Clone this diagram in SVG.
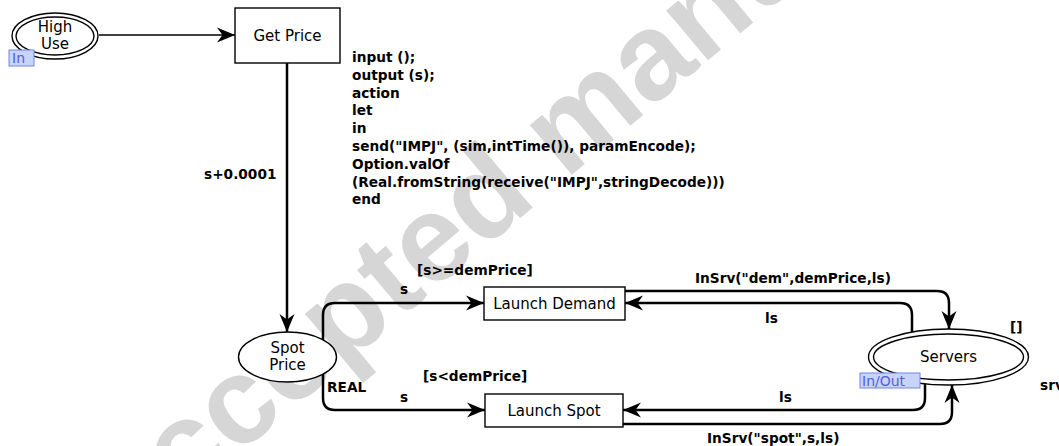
<svg xmlns="http://www.w3.org/2000/svg" width="1059" height="446" viewBox="0 0 1059 446">
  <style>
    .node { fill: #ffffff; stroke: #000000; stroke-width: 1.4; }
    .lbl { font-family: "DejaVu Sans", Verdana, sans-serif; font-size: 15px; fill: #000000; text-anchor: middle; }
    .ins { font-family: "DejaVu Sans", Verdana, sans-serif; font-size: 13.7px; font-weight: bold; fill: #000000; }
    .tag { fill: #c9d2f7; stroke: #6f86e6; stroke-width: 1; }
    .tagtxt { font-family: "DejaVu Sans", Verdana, sans-serif; font-size: 14px; fill: #4f63d6; }
    .arc { fill: none; stroke: #000000; stroke-width: 2.5; }
    .thin { stroke-width: 1.5; }
    .wm { font-family: "Liberation Sans", Arial, sans-serif; font-size: 123px; font-weight: bold; fill: #d6d6d6; }
  </style>
  <defs>
    <marker id="head" markerUnits="userSpaceOnUse" markerWidth="24" markerHeight="20" viewBox="-20 -10 22 20" refX="0" refY="0" orient="auto">
      <path d="M0,0 L-18,-7.5 L-12.5,0 L-18,7.5 Z" fill="#000000"/>
    </marker>
  </defs>

  <rect width="1059" height="446" fill="#ffffff"/>

  <!-- watermark -->
  <text class="wm" transform="translate(115,558) rotate(-40)">Accepted manuscript</text>

  <!-- connectors -->
  <g id="arcs">
    <line class="arc thin" x1="99" y1="35" x2="235" y2="35" marker-end="url(#head)"/>
    <line class="arc" x1="287" y1="63" x2="287" y2="332" marker-end="url(#head)"/>
    <path class="arc" d="M323,341 V315 Q323,303 335,303 H484" marker-end="url(#head)"/>
    <path class="arc" d="M323,374 V398 Q323,410 335,410 H485" marker-end="url(#head)"/>
    <path class="arc" d="M625,291 H937 Q949,291 949,303 V329" marker-end="url(#head)"/>
    <path class="arc" d="M912,332 V315 Q912,303 900,303 H625" marker-end="url(#head)"/>
    <path class="arc" d="M925,384 V398 Q925,410 913,410 H623" marker-end="url(#head)"/>
    <path class="arc" d="M623,424 H940 Q952,424 952,412 V385" marker-end="url(#head)"/>
  </g>

  <!-- arc inscriptions -->
  <g id="inscriptions">
    <text class="ins" x="204" y="179">s+0.0001</text>
    <text class="ins" x="417" y="275">[s&gt;=demPrice]</text>
    <text class="ins" x="400" y="294">s</text>
    <text class="ins" x="327" y="392">REAL</text>
    <text class="ins" x="423" y="381">[s&lt;demPrice]</text>
    <text class="ins" x="400" y="402">s</text>
    <text class="ins" x="695" y="283">InSrv("dem",demPrice,ls)</text>
    <text class="ins" x="765" y="323">ls</text>
    <text class="ins" x="779" y="402">ls</text>
    <text class="ins" x="707" y="443">InSrv("spot",s,ls)</text>
    <text class="ins" x="1010" y="332">[]</text>
    <text class="ins" x="1040" y="390">srv</text>
  </g>

  <!-- code segment of Get Price -->
  <g id="code">
    <text class="ins" x="352" y="62">input ();</text>
    <text class="ins" x="352" y="79.8">output (s);</text>
    <text class="ins" x="352" y="97.6">action</text>
    <text class="ins" x="352" y="115.4">let</text>
    <text class="ins" x="352" y="133.2">in</text>
    <text class="ins" x="352" y="151">send("IMPJ", (sim,intTime()), paramEncode);</text>
    <text class="ins" x="352" y="168.8">Option.valOf</text>
    <text class="ins" x="352" y="186.6">(Real.fromString(receive("IMPJ",stringDecode)))</text>
    <text class="ins" x="352" y="204.4">end</text>
  </g>

  <!-- places -->
  <g id="high-use">
    <ellipse class="node" cx="55" cy="36" rx="43" ry="23"/>
    <ellipse class="node" cx="55" cy="36" rx="39" ry="19"/>
    <text class="lbl" x="55" y="32">High</text>
    <text class="lbl" x="55" y="49">Use</text>
    <rect class="tag" x="9" y="50" width="25" height="16"/>
    <text class="tagtxt" x="12" y="63">In</text>
  </g>

  <g id="spot-price">
    <ellipse class="node" cx="287.5" cy="357" rx="49" ry="25"/>
    <text class="lbl" x="287.5" y="353">Spot</text>
    <text class="lbl" x="287.5" y="370">Price</text>
  </g>

  <g id="servers">
    <ellipse class="node" cx="948.5" cy="357" rx="80" ry="28"/>
    <ellipse class="node" cx="948.5" cy="357" rx="75" ry="23"/>
    <text class="lbl" x="948.5" y="362">Servers</text>
    <rect class="tag" x="860" y="373" width="60" height="15"/>
    <text class="tagtxt" x="862" y="386">In/Out</text>
  </g>

  <!-- transitions -->
  <g id="get-price">
    <rect class="node" x="235" y="8" width="105" height="55"/>
    <text class="lbl" x="287.5" y="40.5">Get Price</text>
  </g>

  <g id="launch-demand">
    <rect class="node" x="484" y="287" width="141" height="33"/>
    <text class="lbl" x="554.5" y="308.5">Launch Demand</text>
  </g>

  <g id="launch-spot">
    <rect class="node" x="485" y="394" width="138" height="33"/>
    <text class="lbl" x="554" y="415.5">Launch Spot</text>
  </g>
</svg>
